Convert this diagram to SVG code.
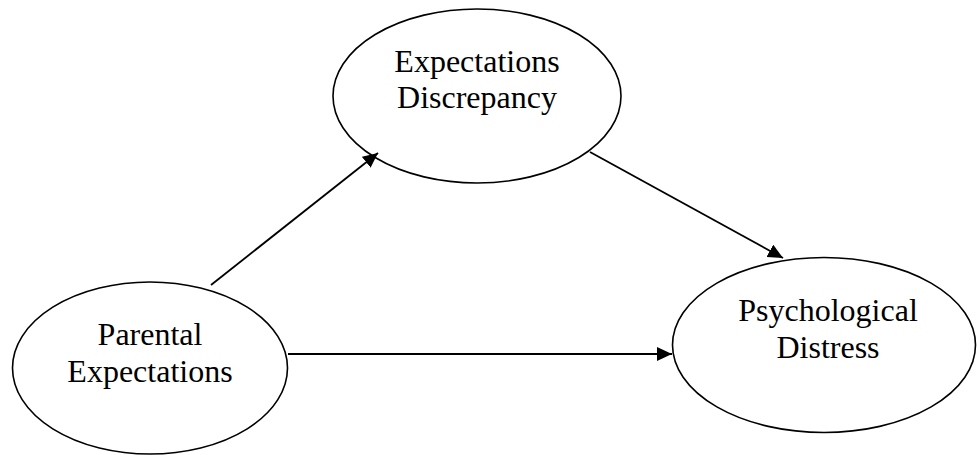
<svg xmlns="http://www.w3.org/2000/svg" width="977" height="455" viewBox="0 0 977 455">
<style>
.node ellipse{fill:#fff;stroke:#000;stroke-width:1.6}
.node text{font-family:"Liberation Serif","Times New Roman",serif;font-size:32px;fill:#000;text-anchor:middle}
.edge{stroke:#000;stroke-width:1.8;fill:none;marker-end:url(#ah)}
</style>
<defs>
<marker id="ah" markerUnits="userSpaceOnUse" markerWidth="17" markerHeight="15" refX="15" refY="7" orient="auto">
<path d="M0,0 L15,7 L0,14 z" fill="#000"/>
</marker>
</defs>
<rect width="977" height="455" fill="#fff"/>
<g id="node-discrepancy" class="node">
<ellipse cx="477" cy="96" rx="144" ry="87"/>
<text x="477" y="72">Expectations</text>
<text x="477" y="108">Discrepancy</text>
</g>
<g id="node-parental" class="node">
<ellipse cx="150" cy="368" rx="137.5" ry="86"/>
<text x="150" y="345">Parental</text>
<text x="150" y="382">Expectations</text>
</g>
<g id="node-distress" class="node">
<ellipse cx="824" cy="345" rx="151.5" ry="87.5"/>
<text x="828" y="321">Psychological</text>
<text x="828" y="358">Distress</text>
</g>
<g id="connectors">
<line class="edge" x1="211" y1="285" x2="378" y2="153"/>
<line class="edge" x1="590" y1="152" x2="783" y2="258"/>
<line class="edge" x1="288" y1="354" x2="672" y2="354"/>
</g>
</svg>
